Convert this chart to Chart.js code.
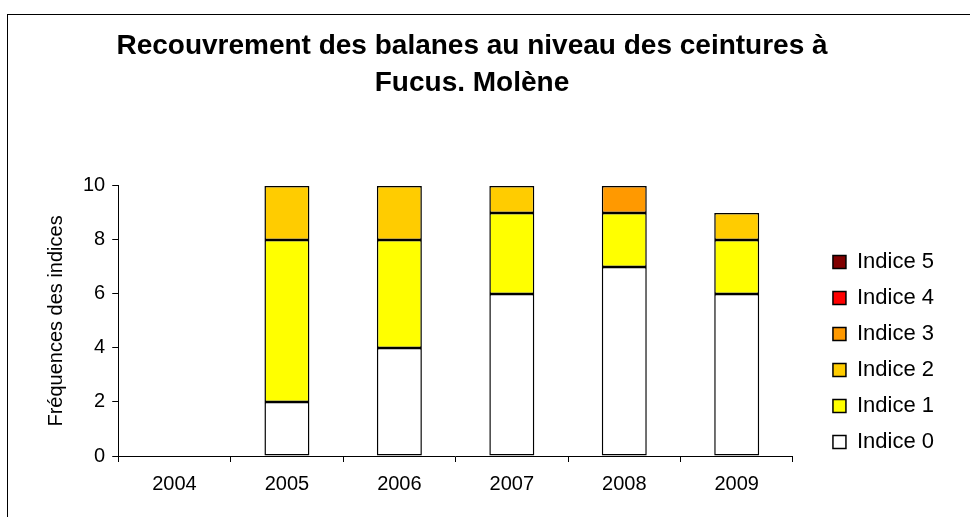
<!DOCTYPE html>
<html>
<head>
<meta charset="utf-8">
<script src="https://cdn.jsdelivr.net/npm/chart.js@4/dist/chart.umd.min.js"></script>
<style>
    html, body { margin: 0; padding: 0; background: #fff; overflow: hidden; }
    #zone { position: relative; width: 970px; height: 517px; }
    #cadre { position: absolute; left: 7px; top: 14px; width: 970px; height: 520px;
             border-left: 1px solid #000; border-top: 1px solid #000; pointer-events: none; }
</style>
</head>
<body>
<div id="zone">
    <canvas data-js="grafico-balanes" width="970" height="517"></canvas>
    <div id="cadre"></div>
</div>
<script>
const annees = ['2004', '2005', '2006', '2007', '2008', '2009'];

const indice0 = [0, 2, 4, 6, 7, 6];
const indice1 = [0, 6, 4, 3, 2, 2];
const indice2 = [0, 2, 2, 1, 0, 1];
const indice3 = [0, 0, 0, 0, 1, 0];
const indice4 = [0, 0, 0, 0, 0, 0];
const indice5 = [0, 0, 0, 0, 0, 0];

const couleurs = ['#FFFFFF', '#FFFF00', '#FFCC00', '#FF9900', '#FF0000', '#800000'];
const series = [indice0, indice1, indice2, indice3, indice4, indice5];

const police = "'Liberation Sans', Arial, sans-serif";

// decale la legende et le titre pour les placer comme dans l'original
const decaleLegende = {
    id: 'decaleLegende',
    afterLayout(chart) {
        const leg = chart.legend;
        leg.left += 26;
        leg.right += 26;
        leg.top += 99;
        leg.bottom += 99;
        const titre = chart.titleBlock;
        titre.left -= 9;
        titre.right -= 9;
    }
};

const elemento = document.querySelector('[data-js="grafico-balanes"]');

const grafico = new Chart(elemento, {
    type: 'bar',
    data: {
        labels: annees,
        datasets: series.map((valeurs, i) => ({
            label: 'Indice ' + i,
            data: valeurs,
            backgroundColor: couleurs[i],
            borderColor: '#000',
            borderWidth: 1.5,
            borderSkipped: false,
            categoryPercentage: 1,
            barPercentage: 0.4
        }))
    },
    options: {
        responsive: false,
        animation: false,
        layout: { padding: { left: 44, right: 52, top: 0, bottom: 11 } },
        plugins: {
            tooltip: { enabled: false },
            title: {
                display: true,
                text: ['Recouvrement des balanes au niveau des ceintures à', 'Fucus. Molène'],
                color: '#000',
                font: { family: police, size: 28, weight: 'bold', lineHeight: 1.32 },
                padding: { top: 28, bottom: 84 }
            },
            legend: {
                position: 'right',
                reverse: true,
                labels: {
                    color: '#000',
                    font: { family: police, size: 22 },
                    boxWidth: 13,
                    boxHeight: 13,
                    padding: 14
                }
            }
        },
        scales: {
            x: {
                stacked: true,
                offset: true,
                grid: { display: true, offset: true, drawOnChartArea: false, color: '#000', tickLength: 6 },
                border: { color: '#000', width: 1 },
                ticks: { color: '#000', font: { family: police, size: 20 }, padding: 10 }
            },
            y: {
                stacked: true,
                min: 0,
                max: 10,
                grid: { display: true, drawOnChartArea: false, color: '#000', tickLength: 6 },
                border: { color: '#000', width: 1 },
                ticks: { stepSize: 2, color: '#000', font: { family: police, size: 20 }, padding: 7 },
                title: {
                    display: true,
                    text: 'Fréquences des indices',
                    color: '#000',
                    font: { family: police, size: 20 },
                    padding: { top: 0, bottom: 8 }
                }
            }
        }
    },
    plugins: [decaleLegende]
});
</script>
</body>
</html>
